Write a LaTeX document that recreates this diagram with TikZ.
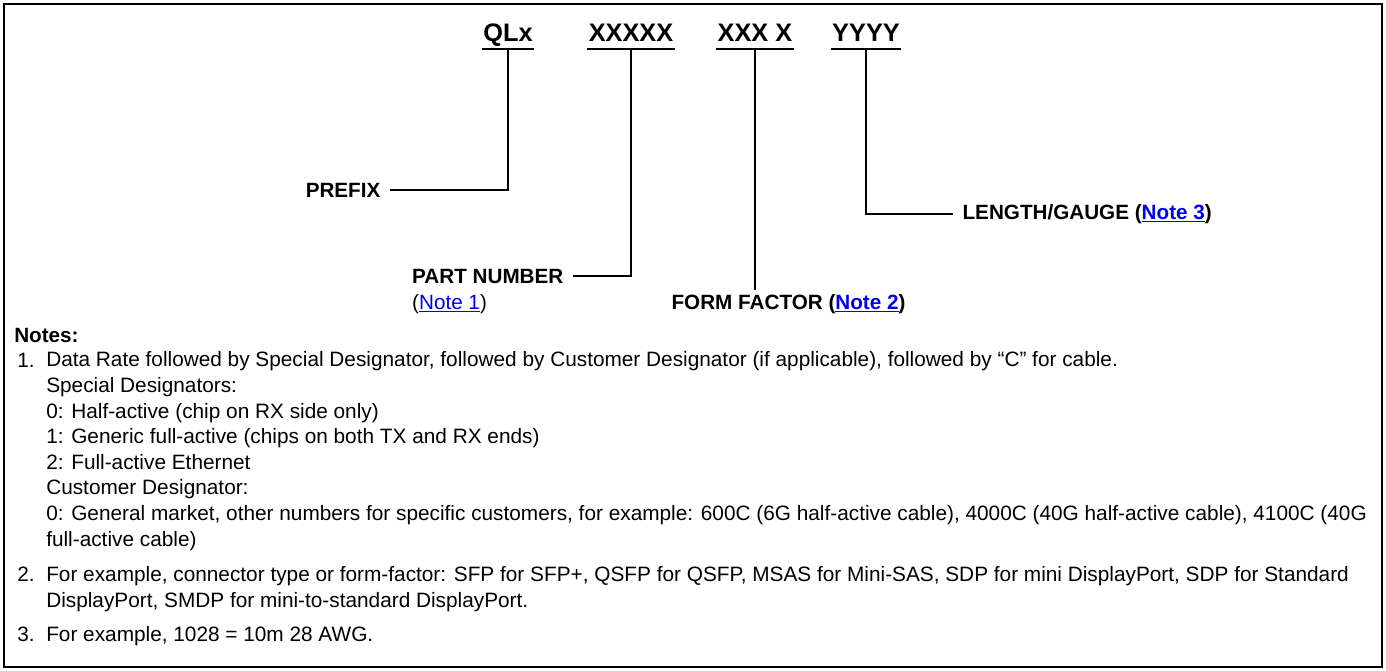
\documentclass[tikz,border=0pt]{standalone}
\usepackage{fontspec}
\setmainfont{Liberation Sans}
\usepackage{tikz}
\definecolor{linkblue}{RGB}{0,0,238}
\newcommand\notelink[1]{\textcolor{linkblue}{\underline{#1}}}

\begin{document}
\begin{tikzpicture}[x=0.75pt,y=-0.75pt,
	code/.style={font=\fontsize{19}{22}\selectfont\bfseries, inner xsep=1pt, inner ysep=0pt, text depth=6pt, anchor=base},
	lbl/.style={font=\fontsize{15.5}{19.2}\selectfont\bfseries, inner xsep=7pt, inner ysep=3pt},
	txt/.style={font=\fontsize{15.6}{19.2}\selectfont, inner sep=0pt, align=left, anchor=base west},
	conn/.style={line width=1.5pt}]
		\useasboundingbox (0,0) rectangle (1386,671);
		\draw[line width=1.5pt] (4,4) rectangle (1382,667);
		\node[code] (qlx) at (508,41) {QLx};
		\node[code] (part) at (631,41) {XXXXX};
		\node[code] (form) at (755,41) {XXX X};
		\node[code] (len) at (866,41) {YYYY};
		\foreach \n in {qlx,part,form,len}
			\draw[conn] (\n.south west)--(\n.south east);
		\node[lbl, anchor=base east] (prefix) at (390,197) {PREFIX};
		\node[lbl, anchor=base east] (partno) at (573,283) {PART NUMBER};
		\node[txt, font=\fontsize{15.5}{19.2}\selectfont] (partnote) at ([xshift=7pt,yshift=-20pt]partno.base west) {(\notelink{Note 1})};
		\node[lbl, anchor=base west] (formfac) at (662,309) {FORM FACTOR (\notelink{Note 2})};
		\node[lbl, anchor=base west] (lengauge) at (953,219) {LENGTH/GAUGE (\notelink{Note 3})};
		\draw[conn] (qlx.south) |- (prefix.east);
		\draw[conn] (part.south) |- (partno.east);
		\draw[conn] (form.south) -- (form.south |- formfac.north);
		\draw[conn] (len.south) |- (lengauge.west);
		% multi-line notes sit on the baseline of their last line
		\node[txt, font=\fontsize{15.5}{19.2}\selectfont\bfseries] (notes) at (14,342) {Notes:};
		\node[txt] (n1num) at (17,367) {1.};
		\node[txt] (n1) at (46,546) {Data Rate followed by Special Designator, followed by Customer Designator (if applicable), followed by “C” for cable.\\
			Special Designators:\\
			0: Half-active (chip on RX side only)\\
			1: Generic full-active (chips on both TX and RX ends)\\
			2: Full-active Ethernet\\
			Customer Designator:\\
			0: General market, other numbers for specific customers, for example: 600C (6G half-active cable), 4000C (40G half-active cable), 4100C (40G\\
			full-active cable)};
		\node[txt] (n2num) at (17,581) {2.};
		\node[txt] (n2) at (46,607) {For example, connector type or form-factor: SFP for SFP+, QSFP for QSFP, MSAS for Mini-SAS, SDP for mini DisplayPort, SDP for Standard\\
			DisplayPort, SMDP for mini-to-standard DisplayPort.};
		\node[txt] (n3num) at (17,641) {3.};
		\node[txt] (n3) at (46,641) {For example, 1028 = 10m 28 AWG.};
	\end{tikzpicture}
\end{document}
